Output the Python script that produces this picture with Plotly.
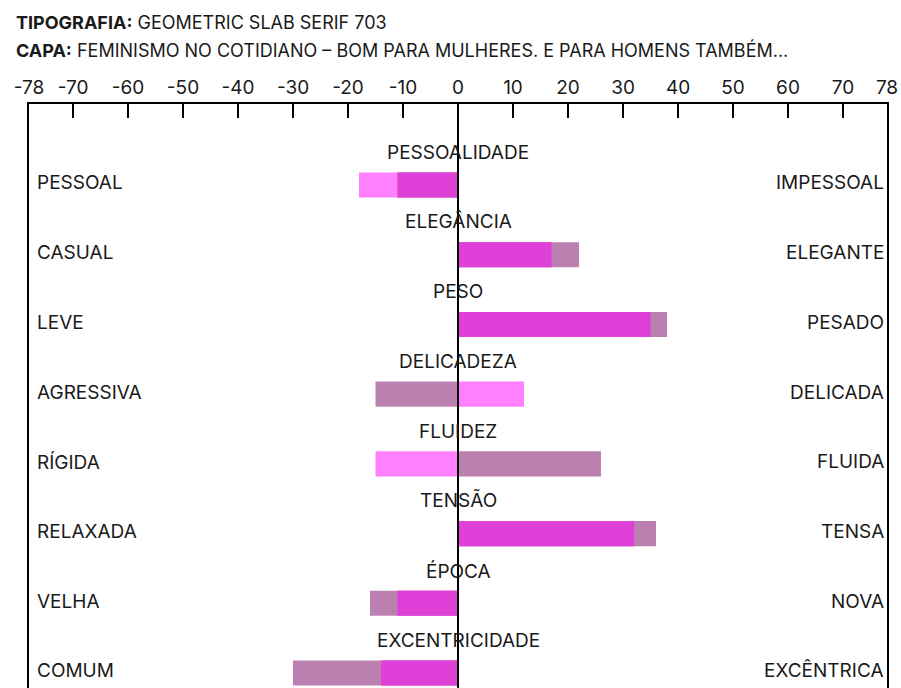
import plotly.graph_objects as go

# ==========================================
# DATA
# ==========================================
CATEGORIES = ["PESSOALIDADE", "ELEGÂNCIA", "PESO", "DELICADEZA",
              "FLUIDEZ", "TENSÃO", "ÉPOCA", "EXCENTRICIDADE"]
LEFT_POLES = ["PESSOAL", "CASUAL", "LEVE", "AGRESSIVA",
              "RÍGIDA", "RELAXADA", "VELHA", "COMUM"]
RIGHT_POLES = ["IMPESSOAL", "ELEGANTE", "PESADO", "DELICADA",
               "FLUIDA", "TENSA", "NOVA", "EXCÊNTRICA"]

# two evaluations per axis; where both point the same way the overlap shows darker
SERIES_PINK = [-18, 17, 35, 12, -15, 32, -11, -14]
SERIES_MAUVE = [-11, 22, 38, -15, 26, 36, -16, -30]

TICK_VALS = [-78, -70, -60, -50, -40, -30, -20, -10, 0, 10, 20, 30, 40, 50, 60, 70, 78]
TICK_TEXT = [str(v) for v in TICK_VALS]

# ==========================================
# STYLE
# ==========================================
COLORS = {"pink": "#FF80FF", "mauve": "#BC80B0", "overlap": "#DE40D8"}
FONT = "Inter, sans-serif"
TEXT_COLOR = "#1A1A1A"

FIG_W, FIG_H = 901, 688
MARGIN = dict(l=29, r=14, t=104, b=0)
PLOT_W = FIG_W - MARGIN["l"] - MARGIN["r"]
PLOT_H = FIG_H - MARGIN["t"] - MARGIN["b"]

rows = [-i for i in range(len(CATEGORIES))]


def _overlap(a, b):
    if a * b <= 0:
        return 0
    return a if abs(a) < abs(b) else b


overlap = [_overlap(a, b) for a, b in zip(SERIES_PINK, SERIES_MAUVE)]

fig = go.Figure()
for vals, key in [(SERIES_PINK, "pink"), (SERIES_MAUVE, "mauve"), (overlap, "overlap")]:
    fig.add_trace(go.Bar(
        x=vals, y=rows, orientation="h", width=0.36,
        marker_color=COLORS[key], marker_line_width=0,
        showlegend=False, hoverinfo="skip"
    ))

label_font = dict(size=19, color=TEXT_COLOR, family=FONT)
annotations = []
for i, (cat, lp, rp) in enumerate(zip(CATEGORIES, LEFT_POLES, RIGHT_POLES)):
    y = rows[i]
    annotations.append(dict(x=0, y=y + 0.47, text=cat, showarrow=False,
                            xanchor="center", yanchor="middle", font=label_font))
    annotations.append(dict(x=-77.0, y=y + 0.03, text=lp, showarrow=False,
                            xanchor="left", yanchor="middle", font=label_font))
    annotations.append(dict(x=77.8, y=y + 0.03, text=rp, showarrow=False,
                            xanchor="right", yanchor="middle", font=label_font))

title_font = dict(size=18, color=TEXT_COLOR, family=FONT)
annotations.append(dict(xref="paper", yref="paper", x=-15 / PLOT_W, y=1 + 82 / PLOT_H,
                        text="<b>TIPOGRAFIA:</b> GEOMETRIC SLAB SERIF 703",
                        showarrow=False, xanchor="left", yanchor="middle", font=title_font))
annotations.append(dict(xref="paper", yref="paper", x=-15 / PLOT_W, y=1 + 54 / PLOT_H,
                        text="<b>CAPA:</b> FEMINISMO NO COTIDIANO – BOM PARA MULHERES. E PARA HOMENS TAMBÉM...",
                        showarrow=False, xanchor="left", yanchor="middle", font=title_font))

fig.update_layout(
    width=FIG_W, height=FIG_H,
    paper_bgcolor="white", plot_bgcolor="white",
    margin=MARGIN,
    barmode="overlay",
    annotations=annotations,
    shapes=[dict(type="line", xref="x", yref="paper", x0=0, x1=0, y0=0, y1=1,
                 line=dict(color="black", width=2), layer="above")],
    xaxis=dict(
        range=[-78, 78], side="top", showgrid=False, zeroline=False,
        showline=True, linecolor="black", linewidth=2,
        ticks="inside", ticklen=14, tickwidth=2, tickcolor="black",
        tickvals=TICK_VALS, ticktext=TICK_TEXT, ticklabeloverflow="allow",
        tickfont=dict(size=19, color=TEXT_COLOR, family=FONT)
    ),
    yaxis=dict(
        range=[-7.215, 1.162], showgrid=False, zeroline=False,
        showline=True, mirror=True, linecolor="black", linewidth=2,
        showticklabels=False, ticks=""
    )
)

# drop the page's default body margin so the figure sits at the window origin
fig.write_html("out.html", config={"displayModeBar": False},
               post_script="document.body.style.margin='0';document.body.style.overflow='hidden';")
